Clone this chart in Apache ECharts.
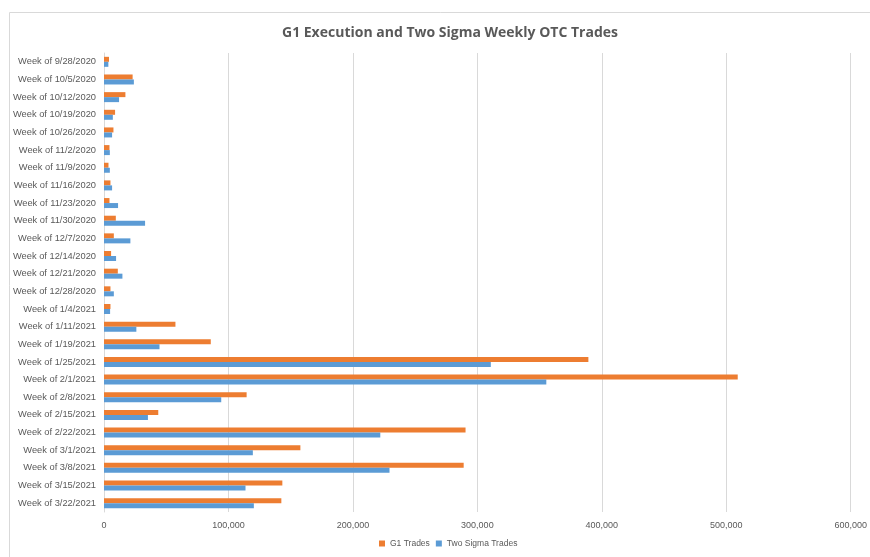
<!DOCTYPE html>
<html>
<head>
<meta charset="utf-8">
<title>G1 Execution and Two Sigma Weekly OTC Trades</title>
<script src="https://cdn.jsdelivr.net/npm/echarts@6/dist/echarts.min.js"></script>
<style>
  html, body { margin: 0; padding: 0; background: #fff; }
  #chart { width: 870px; height: 557px; }
</style>
</head>
<body>
<div id="chart"></div>
<script>
// weeks, top to bottom
const weeks = [
  'Week of 9/28/2020', 'Week of 10/5/2020', 'Week of 10/12/2020', 'Week of 10/19/2020',
  'Week of 10/26/2020', 'Week of 11/2/2020', 'Week of 11/9/2020', 'Week of 11/16/2020',
  'Week of 11/23/2020', 'Week of 11/30/2020', 'Week of 12/7/2020', 'Week of 12/14/2020',
  'Week of 12/21/2020', 'Week of 12/28/2020', 'Week of 1/4/2021', 'Week of 1/11/2021',
  'Week of 1/19/2021', 'Week of 1/25/2021', 'Week of 2/1/2021', 'Week of 2/8/2021',
  'Week of 2/15/2021', 'Week of 2/22/2021', 'Week of 3/1/2021', 'Week of 3/8/2021',
  'Week of 3/15/2021', 'Week of 3/22/2021'
];

const g1Trades = [
  4000, 23000, 17200, 8900, 7600, 4400, 3600, 5200, 4400, 9500,
  7900, 5700, 11100, 5200, 5200, 57400, 85800, 389200, 509200, 114600,
  43600, 290500, 157800, 289000, 143300, 142500
];

const twoSigmaTrades = [
  3500, 24000, 12100, 7100, 6500, 4700, 4700, 6500, 11300, 33000,
  21200, 9700, 14800, 7900, 4900, 26000, 44600, 310800, 355400, 94200,
  35300, 222000, 119600, 229400, 113700, 120400
];

const textColor = '#595959';
const chart = echarts.init(document.getElementById('chart'));

chart.setOption({
  animation: false,
  title: {
    text: 'G1 Execution and Two Sigma Weekly OTC Trades',
    left: 277,
    top: 21,
    textStyle: {
      fontFamily: 'Open Sans',
      fontSize: 14,
      fontWeight: 'bold',
      color: textColor
    }
  },
  graphic: [{
    type: 'rect',
    left: 7,
    top: 10,
    shape: { width: 900, height: 600 },
    style: { fill: 'none', stroke: '#d9d9d9', lineWidth: 1 },
    silent: true
  }],
  grid: {
    left: 104,
    right: 16,
    top: 53,
    bottom: 45
  },
  legend: {
    bottom: 4,
    left: 374,
    itemWidth: 6,
    itemHeight: 6,
    itemGap: 6,
    icon: 'rect',
    textStyle: { fontFamily: 'Liberation Sans', fontSize: 8.5, color: textColor }
  },
  xAxis: {
    type: 'value',
    min: 0,
    max: 600000,
    interval: 100000,
    axisLabel: {
      color: textColor,
      fontSize: 9,
      fontFamily: 'Liberation Sans',
      margin: 9,
      formatter: v => v.toLocaleString('en-US')
    },
    axisLine: { show: false },
    axisTick: { show: false },
    splitLine: { lineStyle: { color: '#d9d9d9' } }
  },
  yAxis: {
    type: 'category',
    data: weeks,
    inverse: true,
    axisLine: { lineStyle: { color: '#d9d9d9' } },
    axisTick: { show: false },
    axisLabel: {
      color: textColor,
      fontSize: 9.3,
      fontFamily: 'Liberation Sans',
      margin: 8,
      interval: 0
    }
  },
  series: [
    {
      name: 'G1 Trades',
      type: 'bar',
      data: g1Trades,
      barWidth: 5,
      barGap: '0%',
      itemStyle: { color: '#ED7D31' }
    },
    {
      name: 'Two Sigma Trades',
      type: 'bar',
      data: twoSigmaTrades,
      barWidth: 5,
      itemStyle: { color: '#5B9BD5' }
    }
  ]
});
</script>
</body>
</html>
